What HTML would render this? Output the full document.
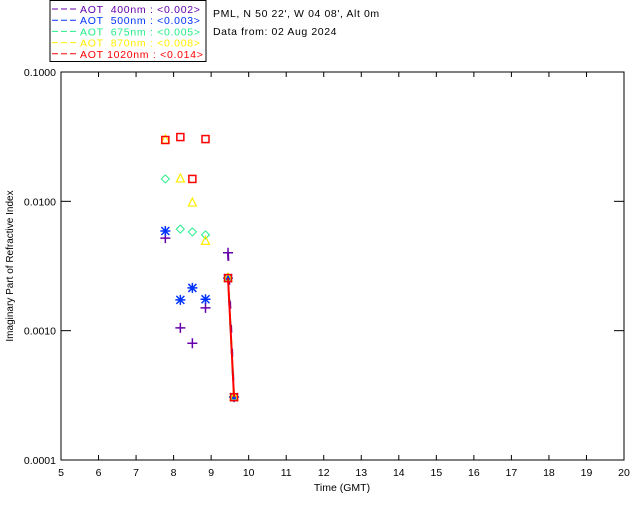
<!DOCTYPE html>
<html><head><meta charset="utf-8"><style>
body{margin:0;background:#fff;width:640px;height:512px;overflow:hidden}
svg text{font-family:"Liberation Sans",sans-serif}
</style></head><body>
<svg id="chart" width="640" height="512" xmlns="http://www.w3.org/2000/svg">
<rect x="50" y="0.5" width="156" height="61" fill="#fff" stroke="#000"/>
<text x="213" y="17" font-size="10.5" letter-spacing="0.6">PML, N 50 22', W 04 08', Alt 0m</text>
<text x="213" y="35" font-size="10.5" letter-spacing="0.6">Data from: 02 Aug 2024</text>
<g id="legend"></g>
<rect x="61" y="72" width="563" height="388" fill="none" stroke="#000"/>
<g id="axes"></g>
<g id="marks"></g>
<text x="342" y="491" font-size="10.5" text-anchor="middle">Time (GMT)</text>
<text transform="translate(13,266) rotate(-90)" font-size="10" text-anchor="middle">Imaginary Part of Refractive Index</text>
</svg>
<script>
const seriesNames=["AOT  400nm : <0.002>","AOT  500nm : <0.003>","AOT  675nm : <0.005>","AOT  870nm : <0.008>","AOT 1020nm : <0.014>"];
const seriesColors=["#6600aa","#0033ff","#22ee88","#ffee00","#ff0000"];
const xTicks=[5,6,7,8,9,10,11,12,13,14,15,16,17,18,19,20];
const yTicks=[0.0001,0.001,0.01,0.1];
const yTickLabels=["0.0001","0.0010","0.0100","0.1000"];
const t400=[7.78,8.18,8.50,8.85,9.45,9.61];
const v400=[0.0052,0.00105,0.0008,0.0015,0.0040,0.000306];
const t500=[7.78,8.18,8.50,8.85,9.45,9.61];
const v500=[0.0059,0.00173,0.00214,0.00175,0.00255,0.000306];
const t675=[7.78,8.18,8.50,8.85,9.45,9.61];
const v675=[0.0149,0.0061,0.0058,0.0055,0.00255,0.000306];
const t870=[7.78,8.18,8.50,8.85,9.45,9.61];
const v870=[0.0298,0.0149,0.0097,0.0049,0.00255,0.000306];
const t1020=[7.78,8.18,8.50,8.85,9.45,9.61];
const v1020=[0.0298,0.0314,0.0149,0.0303,0.00255,0.000306];

const NS="http://www.w3.org/2000/svg";
const X=t=>61+(t-5)*(563/15);
const Y=v=>460-(Math.log10(v)+4)*(388/3);
function mk(tag,attrs,parent){const e=document.createElementNS(NS,tag);for(const k in attrs)e.setAttribute(k,attrs[k]);parent.appendChild(e);return e;}
const axes=document.getElementById('axes'),marks=document.getElementById('marks'),leg=document.getElementById('legend');
xTicks.forEach(t=>{
 const l=mk('line',{x1:X(t),x2:X(t),y1:460,y2:455,stroke:'#000'},axes);
 
 
 const l2=mk('line',{x1:X(t),x2:X(t),y1:72,y2:77,stroke:'#000'},axes);
 
 
 const tx=mk('text',{x:X(t),y:476,'font-size':10.5,'text-anchor':'middle'},axes);tx.textContent=t;
 
 
});
yTicks.forEach((v,i)=>{
 const l=mk('line',{x1:61,x2:71,y1:Y(v),y2:Y(v),stroke:'#000'},axes);
 
 
 const l2=mk('line',{x1:614,x2:624,y1:Y(v),y2:Y(v),stroke:'#000'},axes);
 
 
 const tx=mk('text',{x:56,y:Y(v)+4,'font-size':10.5,'text-anchor':'end'},axes);tx.textContent=yTickLabels[i];
 
 
});
seriesNames.forEach((n,i)=>{
 const y=9+i*11.2;
 const l=mk('line',{x1:52,x2:76,y1:y,y2:y,stroke:seriesColors[i],'stroke-dasharray':'6,3'},leg);
 
 
 const tx=mk('text',{x:80,y:y+4,'font-size':10.5,fill:seriesColors[i],'letter-spacing':0.7},leg);tx.textContent=n;
 tx.style.whiteSpace='pre';
 
 
});
const data=[[t400,v400,'plus'],[t500,v500,'star'],[t675,v675,'diamond'],[t870,v870,'tri'],[t1020,v1020,'square']];
data.forEach(([ts,vs,shape],si)=>{
 const c=seriesColors[si];
 const n=ts.length;
 const ln=mk('line',{x1:X(ts[n-2]),y1:Y(vs[n-2]),x2:X(ts[n-1]),y2:Y(vs[n-1]),stroke:c,'stroke-width':2,'stroke-dasharray':si==4?'none':'8,16','stroke-dashoffset':si*4},marks);
 
 
 ts.forEach((t,j)=>{
  const x=X(t),y=Y(vs[j]);let e;
  if(shape=='plus')e=mk('path',{d:`M${x-5} ${y}h10M${x} ${y-5}v10`,stroke:c,'stroke-width':1.5,fill:'none'},marks);
  else if(shape=='star')e=mk('path',{d:`M${x-5} ${y}h10M${x} ${y-5}v10M${x-4} ${y-4}l8 8M${x-4} ${y+4}l8 -8`,stroke:c,'stroke-width':1.5,fill:'none'},marks);
  else if(shape=='diamond')e=mk('path',{d:`M${x} ${y-4}l4 4l-4 4l-4 -4z`,stroke:c,'stroke-width':1,fill:'none'},marks);
  else if(shape=='tri')e=mk('path',{d:`M${x} ${y-5}l4 8h-8z`,stroke:c,'stroke-width':1.2,fill:'none'},marks);
  else e=mk('rect',{x:x-3.5,y:y-3.5,width:7,height:7,stroke:c,'stroke-width':1.5,fill:'none'},marks);
  
  
 });
});
</script>
</body></html>
